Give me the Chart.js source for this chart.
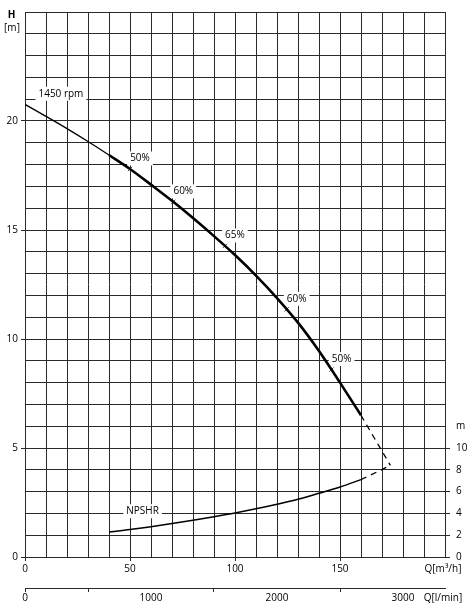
<!DOCTYPE html>
<html><head><meta charset="utf-8">
<script src="https://cdn.jsdelivr.net/npm/chart.js@4.4.0/dist/chart.umd.min.js"></script>
<style>html,body{margin:0;padding:0;background:#fff}canvas{display:block}</style>
</head><body>
<canvas id="c" width="470" height="611"></canvas>
<script>
// ---- data ----
const qThin = [0, 10, 20, 30, 40];
const hThin = [20.76, 20.21, 19.65, 19.06, 18.44];
const qMain = [40, 50, 60, 70, 80, 90, 100, 110, 120, 130, 140, 150, 160];
const hMain = [18.44, 17.8, 17.08, 16.34, 15.55, 14.72, 13.85, 12.91, 11.88, 10.75, 9.45, 8.0, 6.5];
const qDash = [160, 174];
const hDash = [6.5, 4.2];
const qNpsh = [40, 50, 60, 70, 80, 90, 100, 110, 120, 130, 140, 150, 160];
const npsh = [2.3, 2.52, 2.78, 3.07, 3.38, 3.7, 4.04, 4.42, 4.84, 5.3, 5.85, 6.42, 7.1];
const qNpshDash = [160, 174];
const npshDash = [7.1, 8.4];
const effQ = [50, 70.6, 95.2, 124.6, 146];
const effH = [17.8, 16.29, 14.27, 11.36, 8.6];
const effLabels = ['50%', '60%', '65%', '60%', '50%'];
const curveLabels = ['1450 rpm', 'NPSHR'];
const curveLabelQ = [17.1, 56];
const curveLabelH = [21.25, 2.1];
const xTickLabels = [0, 50, 100, 150];
const yTickLabels = [0, 5, 10, 15, 20];
const npshTickLabels = [0, 2, 4, 6, 8, 10];
const lminTicks = [0, 500, 1000, 1500, 2000, 2500, 3000];
const lminTickLabels = [0, 1000, 2000, 3000];
const lminTickMarks = [0, 500, 1500, 2500];

const zip = (xs, ys) => xs.map((x, i) => ({x: x, y: ys[i]}));
const FONT = "'Open Sans', 'DejaVu Sans', sans-serif";
const INK = '#000';
const GRID = '#2a2a2a';

const textPlugin = {
  id: 'texts',
  beforeDatasetsDraw(chart) {
    const ctx = chart.ctx, xs = chart.scales.x, ys = chart.scales.y;
    ctx.save();
    ctx.font = '10px ' + FONT;
    ctx.textAlign = 'center';
    ctx.textBaseline = 'middle';
    const boxText = (t, cx, cy) => {
      const w = ctx.measureText(t).width + 6;
      ctx.fillStyle = '#fff';
      ctx.fillRect(cx - w / 2, cy - 7, w, 14);
      ctx.fillStyle = INK;
      ctx.fillText(t, cx, cy);
    };
    effQ.forEach((q, i) => {
      const px = xs.getPixelForValue(q), py = ys.getPixelForValue(effH[i]);
      boxText(effLabels[i], px + 10, py - 10.5);
    });
    curveLabels.forEach((t, i) => {
      boxText(t, xs.getPixelForValue(curveLabelQ[i]), ys.getPixelForValue(curveLabelH[i]));
    });
    ctx.restore();
  },
  afterDraw(chart) {
    const ctx = chart.ctx;
    ctx.save();
    ctx.fillStyle = INK;
    ctx.textAlign = 'center';
    ctx.textBaseline = 'middle';
    ctx.font = 'bold 10px ' + FONT;
    ctx.fillText('H', 11.5, 15);
    ctx.font = '10px ' + FONT;
    ctx.fillText('[m]', 12, 28);
    ctx.fillText('Q[m³/h]', 443, 569);
    ctx.fillText('Q[l/min]', 443, 598);
    ctx.restore();
  }
};

new Chart(document.getElementById('c'), {
  type: 'scatter',
  data: {
    datasets: [
      {data: zip(qThin, hThin), showLine: true, borderColor: INK, borderWidth: 1.3, pointRadius: 0, cubicInterpolationMode: 'monotone', yAxisID: 'y'},
      {data: zip(qMain, hMain), showLine: true, borderColor: INK, borderWidth: 2.6, pointRadius: 0, cubicInterpolationMode: 'monotone', yAxisID: 'y'},
      {data: zip(qDash, hDash), showLine: true, borderColor: INK, borderWidth: 1.3, borderDash: [6, 5], pointRadius: 0, yAxisID: 'y'},
      {data: zip(qNpsh, npsh), showLine: true, borderColor: INK, borderWidth: 1.5, pointRadius: 0, cubicInterpolationMode: 'monotone', yAxisID: 'y2'},
      {data: zip(qNpshDash, npshDash), showLine: true, borderColor: INK, borderWidth: 1.3, borderDash: [6, 5], pointRadius: 0, yAxisID: 'y2'},
      {data: zip(effQ, effH), showLine: false, pointStyle: 'crossRot', pointRadius: 3, borderColor: '#444', borderWidth: 1, yAxisID: 'y'}
    ]
  },
  options: {
    responsive: false,
    animation: false,
    events: [],
    layout: {padding: {top: 10, left: 0, right: 0, bottom: 0}},
    plugins: {legend: {display: false}, tooltip: {enabled: false}},
    scales: {
      x: {
        type: 'linear', position: 'bottom', min: 0, max: 200,
        afterFit: s => { s.height = 31; },
        ticks: {stepSize: 10, autoSkip: false, maxRotation: 0, padding: 2, color: INK, font: {family: FONT, size: 10},
          callback: v => xTickLabels.includes(v) ? String(v) : ''},
        grid: {color: GRID, lineWidth: 1, tickLength: 4,
          tickColor: c => (c.tick && xTickLabels.includes(c.tick.value)) ? GRID : 'rgba(0,0,0,0)'},
        border: {display: true, color: GRID}
      },
      x2: {
        type: 'linear', position: 'bottom', min: 0, max: 200 * 1000 / 60,
        afterFit: s => { s.height = 23; },
        afterBuildTicks: s => { s.ticks = lminTicks.map(v => ({value: v})); },
        ticks: {autoSkip: false, maxRotation: 0, padding: 0, color: INK, font: {family: FONT, size: 10},
          callback: v => lminTickLabels.includes(v) ? String(v) : ''},
        grid: {drawOnChartArea: false, tickLength: 4,
          tickColor: c => (c.tick && lminTickMarks.includes(c.tick.value)) ? GRID : 'rgba(0,0,0,0)'},
        border: {display: true, color: GRID}
      },
      y: {
        type: 'linear', position: 'left', min: 0, max: 25,
        afterFit: s => { s.width = 25; },
        ticks: {stepSize: 1, autoSkip: false, padding: 3, color: INK, font: {family: FONT, size: 10},
          callback: v => yTickLabels.includes(v) ? String(v) : ''},
        grid: {color: GRID, lineWidth: 1, tickLength: 4,
          tickColor: c => (c.tick && yTickLabels.includes(c.tick.value)) ? GRID : 'rgba(0,0,0,0)'},
        border: {display: true, color: GRID}
      },
      y2: {
        type: 'linear', position: 'right', min: 0, max: 50,
        afterFit: s => { s.width = 25; },
        ticks: {stepSize: 2, autoSkip: false, padding: 6, color: INK, font: {family: FONT, size: 10},
          callback: v => npshTickLabels.includes(v) ? String(v) : (v === 12 ? 'm' : '')},
        grid: {drawOnChartArea: false, tickLength: 5,
          tickColor: c => (c.tick && npshTickLabels.includes(c.tick.value)) ? GRID : 'rgba(0,0,0,0)'},
        border: {display: true, color: GRID}
      }
    }
  },
  plugins: [textPlugin]
});
</script>
</body></html>
